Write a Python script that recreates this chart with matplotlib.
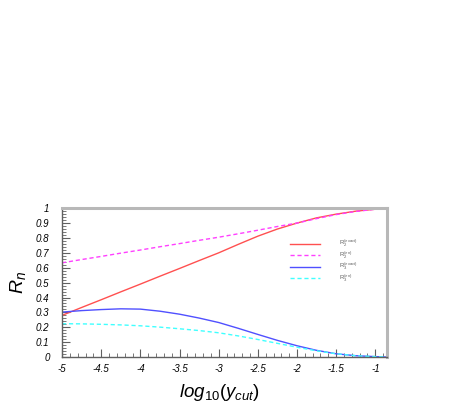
import matplotlib
matplotlib.use("Agg")
import matplotlib.pyplot as plt
from matplotlib.ticker import MultipleLocator

log_ycut = [-5, -4.75, -4.5, -4.25, -4, -3.75, -3.5, -3.25, -3, -2.75, -2.5, -2.25, -2, -1.75, -1.5, -1.25, -1, -0.85]
r2_exact = [0.28, 0.333, 0.385, 0.438, 0.49, 0.543, 0.595, 0.648, 0.70, 0.757, 0.812, 0.86, 0.90, 0.935, 0.96, 0.98, 0.993, 1.0]
r2_approx = [0.633, 0.655, 0.676, 0.698, 0.719, 0.741, 0.762, 0.784, 0.805, 0.828, 0.852, 0.877, 0.90, 0.93, 0.957, 0.978, 0.993, 1.0]
r3_exact = [0.302, 0.312, 0.319, 0.324, 0.322, 0.308, 0.288, 0.262, 0.232, 0.193, 0.152, 0.112, 0.076, 0.045, 0.022, 0.009, 0.003, 0.0]
r3_approx = [0.224, 0.223, 0.22, 0.216, 0.21, 0.201, 0.19, 0.178, 0.163, 0.142, 0.118, 0.092, 0.066, 0.042, 0.022, 0.009, 0.003, 0.0]

labels = [r"R$_2^{(exact)}$", r"R$_2^{(en)}$", r"R$_3^{(exact)}$", r"R$_3^{(en)}$"]

plt.rcParams['font.family'] = ['Liberation Sans', 'DejaVu Sans']
plt.rcParams['mathtext.fontset'] = 'custom'
plt.rcParams['mathtext.rm'] = 'Liberation Sans'
plt.rcParams['mathtext.it'] = 'Liberation Sans:italic'
plt.rcParams['mathtext.bf'] = 'Liberation Sans:bold'

fig = plt.figure(figsize=(4.63, 4.09), dpi=100)
ax = fig.add_axes([0.134, 0.127, 0.702, 0.364])

ax.plot(log_ycut, r2_exact, color='#ff5050', lw=1.0, label=labels[0])
ax.plot(log_ycut, r2_approx, color='#ff40ff', lw=1.0, ls=(0, (3, 2)), label=labels[1])
ax.plot(log_ycut, r3_exact, color='#5050ff', lw=1.0, label=labels[2])
ax.plot(log_ycut, r3_approx, color='#40ffff', lw=1.0, ls=(0, (3, 2)), label=labels[3])

ax.set_xlim(-5, -0.85)
ax.set_ylim(0, 1)
ax.xaxis.set_minor_locator(MultipleLocator(0.1))
ax.yaxis.set_minor_locator(MultipleLocator(0.02))
ax.set_xticks([-5, -4.5, -4, -3.5, -3, -2.5, -2, -1.5, -1])
ax.set_xticklabels(["-5", "-4.5", "-4", "-3.5", "-3", "-2.5", "-2", "-1.5", "-1"])
ax.set_yticks([0, 0.1, 0.2, 0.3, 0.4, 0.5, 0.6, 0.7, 0.8, 0.9, 1])
ax.set_yticklabels(["0", "0.1", "0.2", "0.3", "0.4", "0.5", "0.6", "0.7", "0.8", "0.9", "1"])

ax.tick_params(which='both', direction='in', color='#606060', labelsize=7)
ax.tick_params(which='major', length=6, width=0.8)
ax.tick_params(which='minor', length=3, width=0.6)
ax.tick_params(axis='x', which='major', pad=5)
ax.tick_params(axis='y', which='major', pad=9)
for lab in ax.get_xticklabels() + ax.get_yticklabels():
    lab.set_fontstyle('italic')

for s in ['top', 'right']:
    ax.spines[s].set_color('#b8b8b8')
    ax.spines[s].set_linewidth(2.2)
for s in ['left', 'bottom']:
    ax.spines[s].set_color('#606060')
    ax.spines[s].set_linewidth(1.0)

ax.set_ylabel(r"$R_n$", fontsize=14, rotation=90, labelpad=6)
fig.text(0.475, 0.04, r"$log_{10}(y_{cut})$", fontsize=13.5, ha='center', va='center')

leg = ax.legend(loc='upper left', bbox_to_anchor=(0.70, 0.80), frameon=False, fontsize=4.3,
                handlelength=5.1, handletextpad=3.2, labelspacing=0.0, labelcolor='#606060',
                borderaxespad=0, borderpad=0)

fig.savefig("out.png", dpi=100)
